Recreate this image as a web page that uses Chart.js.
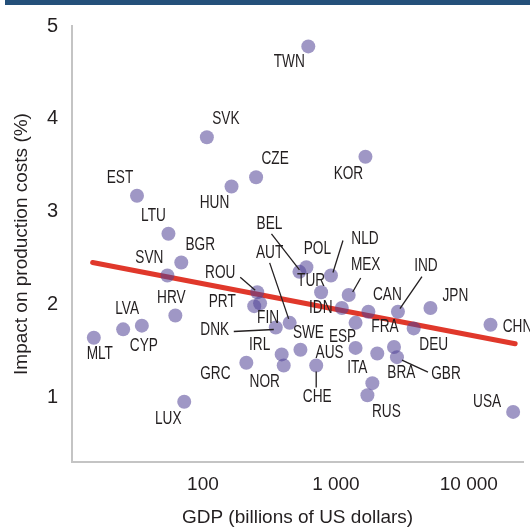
<!DOCTYPE html>
<html>
<head>
<meta charset="utf-8">
<script src="https://cdn.jsdelivr.net/npm/chart.js"></script>
<style>
  html, body { margin: 0; padding: 0; background: #fff; }
  #wrap { width: 530px; height: 530px; }
</style>
</head>
<body>
<div id="wrap"><canvas id="myChart"></canvas></div>
<script>
// countries, GDP (billions of US dollars) and impact on production costs (%)
const countries = ['TWN', 'SVK', 'CZE', 'HUN', 'EST', 'LTU', 'BGR', 'SVN', 'KOR', 'ROU',
  'PRT', 'FIN', 'HRV', 'LVA', 'CYP', 'MLT', 'LUX', 'GRC', 'DNK', 'AUT',
  'IRL', 'NOR', 'SWE', 'BEL', 'POL', 'TUR', 'NLD', 'CHE', 'MEX', 'IDN',
  'CAN', 'IND', 'ESP', 'DEU', 'AUS', 'ITA', 'FRA', 'GBR', 'BRA', 'RUS',
  'JPN', 'CHN', 'USA'];
const gdp = [620, 107, 251, 164, 31.9, 55, 68.7, 54, 1668, 256,
  243, 269, 62, 25.1, 34.7, 15.1, 72.3, 212, 353, 449,
  391, 405, 541, 532, 600, 774, 918, 711, 1248, 1108,
  1755, 2929, 1406, 3847, 1406, 2047, 2735, 2879, 1880, 1726,
  5142, 14555, 21544];
const impact = [4.78, 3.80, 3.37, 3.27, 3.17, 2.76, 2.45, 2.31, 3.59, 2.13,
  1.98, 2.01, 1.88, 1.73, 1.77, 1.64, 0.95, 1.37, 1.75, 1.80,
  1.46, 1.34, 1.51, 2.35, 2.40, 2.13, 2.31, 1.34, 2.10, 1.96,
  1.92, 1.92, 1.80, 1.74, 1.53, 1.47, 1.54, 1.43, 1.15, 1.02,
  1.96, 1.78, 0.84];

// fitted line
const trendGdp = [14.8, 22300];
const trendImpact = [2.45, 1.575];

const xTicks = [100, 1000, 10000];
const yTicks = [1, 2, 3, 4, 5];

// label placement (px from the point) and leader lines
const labelOffsets = {
  TWN: [-19, 16], SVK: [19, -18], CZE: [19, -18], HUN: [-17, 17], EST: [-17, -18],
  LTU: [-15, -18], BGR: [19, -17], SVN: [-18, -17], KOR: [-17, 17], ROU: [-37, -19],
  PRT: [-32, -4], FIN: [8, 15], HRV: [-4, -17], LVA: [4, -20], CYP: [2, 21],
  MLT: [6, 16], LUX: [-16, 17], GRC: [-31, 11], DNK: [-61, 3], AUT: [-20, -70],
  IRL: [-22, -9], NOR: [-19, 17], SWE: [8, -17], BEL: [-30, -48], POL: [11, -18],
  TUR: [-10, -11], NLD: [34, -36], CHE: [1, 32], MEX: [17, -30], IDN: [-21, 0],
  CAN: [19, -17], IND: [28, -46], ESP: [-13, 14], DEU: [20, 17], AUS: [-26, 5],
  ITA: [-20, 15], FRA: [-9, -20], GBR: [49, 17], BRA: [29, -10], RUS: [19, 17],
  JPN: [25, -12], CHN: [27, 2], USA: [-26, -10]
};
const leaders = {
  ROU: [-17, -15, -2, -2],
  DNK: [-42, 4, -2, 2],
  AUT: [-20, -60, -1, -4],
  BEL: [-28, -38, 0, -2],
  NLD: [12, -35, 2, -3],
  MEX: [12, -17, 4, -3],
  IND: [24, -35, 2, -3],
  GBR: [31, 15, 5, 3],
  CHE: [0, 22, 0, 6]
};

const fontFamily = "'Liberation Sans', Arial, sans-serif";
Chart.defaults.font.family = fontFamily;
Chart.defaults.color = '#231f20';

const fmt = v => String(v).replace(/\B(?=(\d{3})+(?!\d))/g, ' ');

const labelPlugin = {
  id: 'labels',
  beforeDraw(chart) {
    const ctx = chart.ctx;
    ctx.save();
    ctx.fillStyle = '#24507a';
    ctx.fillRect(5, 0, 525, 5);
    ctx.restore();
  },
  afterDatasetsDraw(chart) {
    const ctx = chart.ctx;
    const xs = chart.scales.x, ys = chart.scales.y;
    ctx.save();
    ctx.font = '17.5px ' + fontFamily;
    ctx.textAlign = 'center';
    ctx.textBaseline = 'middle';
    ctx.fillStyle = '#231f20';
    ctx.strokeStyle = '#231f20';
    ctx.lineWidth = 1.3;
    countries.forEach((c, i) => {
      const px = xs.getPixelForValue(gdp[i]);
      const py = ys.getPixelForValue(impact[i]);
      const l = leaders[c];
      if (l) {
        ctx.beginPath();
        ctx.moveTo(px + l[0], py + l[1]);
        ctx.lineTo(px + l[2], py + l[3]);
        ctx.stroke();
      }
      const o = labelOffsets[c];
      // condensed lettering like the original
      ctx.save();
      ctx.translate(px + o[0], py + o[1]);
      ctx.scale(0.78, 1);
      ctx.fillText(c, 0, 0);
      ctx.restore();
    });
    ctx.restore();
  }
};

const data = {
  datasets: [{
    label: 'countries',
    data: gdp.map((g, i) => ({x: g, y: impact[i]})),
    backgroundColor: 'rgba(80, 65, 150, 0.55)',
    borderWidth: 0,
    pointRadius: 7,
    order: 0
  }, {
    label: 'trend',
    data: trendGdp.map((g, i) => ({x: g, y: trendImpact[i]})),
    showLine: true,
    borderColor: '#e0382b',
    borderWidth: 5,
    borderCapStyle: 'round',
    pointRadius: 0,
    order: 1
  }]
};

const config = {
  type: 'scatter',
  data: data,
  options: {
    responsive: true,
    maintainAspectRatio: false,
    animation: false,
    layout: { padding: { top: 12, left: 0, right: 0, bottom: 0 } },
    plugins: { legend: { display: false }, tooltip: { enabled: false } },
    scales: {
      x: {
        type: 'logarithmic',
        min: 10.35,
        max: 25550,
        afterBuildTicks: s => { s.ticks = xTicks.map(v => ({value: v})); },
        afterFit: s => { s.height = 68; },
        grid: { display: false, drawTicks: false },
        border: { display: true, color: '#c4c4c4', width: 2 },
        ticks: { font: { size: 19 }, padding: 11, maxRotation: 0, autoSkip: false, callback: v => fmt(v) },
        title: { display: true, text: 'GDP (billions of US dollars)', font: { size: 19 }, padding: { top: 0, bottom: 1 } }
      },
      y: {
        min: 0.3,
        max: 5,
        afterBuildTicks: s => { s.ticks = yTicks.map(v => ({value: v})); },
        afterFit: s => { s.width = 72; },
        grid: { display: false, drawTicks: false },
        border: { display: true, color: '#c4c4c4', width: 2 },
        ticks: { font: { size: 20 }, padding: 14, callback: v => v },
        title: { display: true, text: 'Impact on production costs (%)', font: { size: 19 }, padding: { top: 10, bottom: 0 } }
      }
    }
  },
  plugins: [labelPlugin]
};

const myChart = new Chart(document.getElementById('myChart'), config);
</script>
</body>
</html>
